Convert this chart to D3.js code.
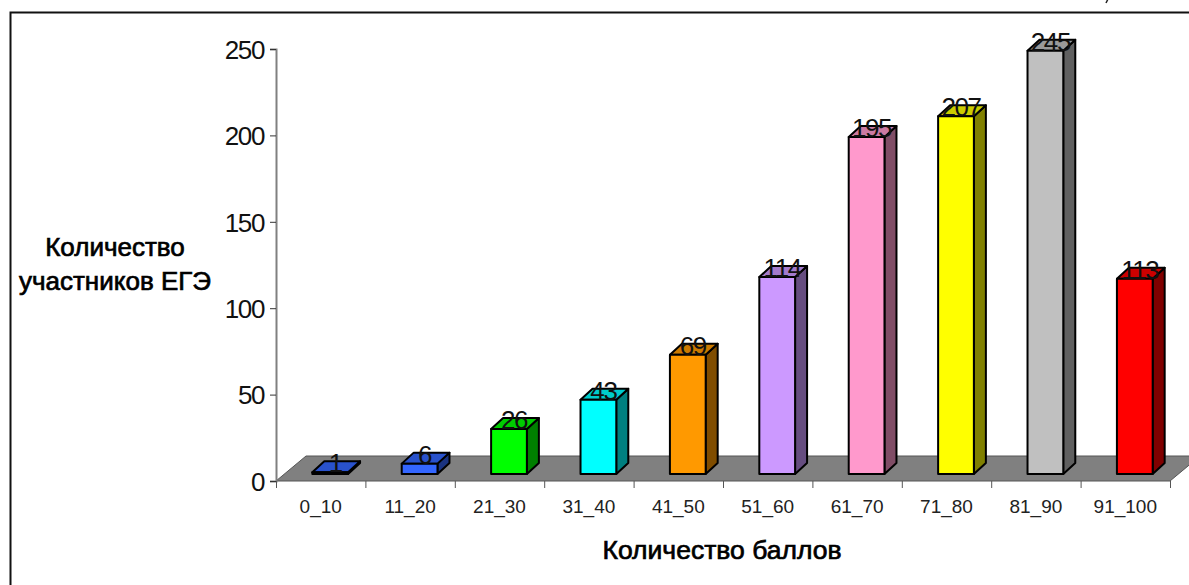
<!DOCTYPE html>
<html>
<head>
<meta charset="utf-8">
<script src="https://cdn.jsdelivr.net/npm/d3@7"></script>
<style>
html, body { margin: 0; padding: 0; background: #fff; }
svg { display: block; font-family: "Liberation Sans", Arial, sans-serif; }
</style>
</head>
<body>
<svg id="chart" width="1189" height="585"></svg>
<script>
var categories = ['0_10', '11_20', '21_30', '31_40', '41_50', '51_60', '61_70', '71_80', '81_90', '91_100']
var values = [1, 6, 26, 43, 69, 114, 195, 207, 245, 113]
var barColors = ['#3366ff', '#3366ff', '#00ff00', '#00ffff', '#ff9900', '#cc99ff', '#ff99cc', '#ffff00', '#c0c0c0', '#ff0000']
var yTicks = [0, 50, 100, 150, 200, 250]

var svg = d3.select('#chart')

var plotLeft = 276, plotRight = 1170, plotBottom = 481, plotTop = 49
// depth of the floor and of each bar
var floorDx = 30, floorDy = 25
var barDx = 12, barDy = 11
var shiftX = 9.5, shiftY = 7

var x = d3.scaleBand().domain(categories).range([plotLeft, plotRight]).paddingInner(0.6).paddingOuter(0.3)
var bandEdges = d3.scaleLinear().domain([0, categories.length]).range([plotLeft, plotRight])
var y = d3.scaleLinear().domain([0, 250]).range([plotBottom, plotTop])

function poly(points, fill) {
    return svg.append('polygon')
        .attr('points', points.map(p => p.join(',')).join(' '))
        .attr('fill', fill)
        .attr('stroke', '#000')
        .attr('stroke-width', 2)
        .attr('stroke-linejoin', 'round')
}

// page frame, runs off the right and bottom of the picture
svg.append('path')
    .attr('d', 'M10.5,590V12.5H1195')
    .attr('fill', 'none')
    .attr('stroke', '#111')
    .attr('stroke-width', 2)

// tail of a letter cut by the top edge of the scan
svg.append('path')
    .attr('d', 'M1108,-1L1106,3')
    .attr('fill', 'none')
    .attr('stroke', '#222')
    .attr('stroke-width', 1.5)

// floor
svg.append('polygon')
    .attr('points', [[plotLeft, plotBottom], [plotLeft + floorDx, plotBottom - floorDy], [plotRight + floorDx, plotBottom - floorDy], [plotRight, plotBottom]].map(p => p.join(',')).join(' '))
    .attr('fill', '#808080')
    .attr('stroke', '#555')
    .attr('stroke-width', 1)

// axes
var yAxis = svg.append('g')
    .attr('transform', 'translate(' + plotLeft + ',0)')
    .call(d3.axisLeft(y).tickValues(yTicks).tickSize(6).tickPadding(6))
yAxis.select('.domain').attr('stroke', '#808080').attr('stroke-width', 2)
yAxis.selectAll('.tick line').attr('stroke', '#333')
yAxis.selectAll('text')
    .attr('font-size', 26)
    .attr('letter-spacing', -1.4)
    .attr('dy', '0.36em')
    .attr('fill', '#111')
    .attr('font-family', '"Liberation Sans", Arial, sans-serif')

var xTickMarks = svg.append('g')
    .attr('transform', 'translate(0,' + plotBottom + ')')
    .call(d3.axisBottom(bandEdges).tickValues(d3.range(categories.length + 1)).tickSize(7).tickFormat(''))
xTickMarks.select('.domain').remove()
xTickMarks.selectAll('.tick line').attr('stroke', '#555')

var xAxis = svg.append('g')
    .attr('transform', 'translate(0,' + plotBottom + ')')
    .call(d3.axisBottom(x).tickSize(0).tickPadding(19))
xAxis.select('.domain').remove()
xAxis.selectAll('text').attr('font-size', 19).attr('fill', '#222').attr('font-family', '"Liberation Sans", Arial, sans-serif')

// bars
categories.forEach(function (c, i) {
    var x0 = x(c) + shiftX, x1 = x0 + x.bandwidth()
    var y0 = y(0) - shiftY, y1 = y(values[i]) - shiftY
    var col = d3.color(barColors[i])
    var sideCol = d3.rgb(col.r * 0.5, col.g * 0.5, col.b * 0.5)
    var topCol = d3.rgb(col.r * 0.8, col.g * 0.8, col.b * 0.8)
    poly([[x1, y0], [x1 + barDx, y0 - barDy], [x1 + barDx, y1 - barDy], [x1, y1]], sideCol)
    poly([[x0, y1], [x0 + barDx, y1 - barDy], [x1 + barDx, y1 - barDy], [x1, y1]], topCol)
    poly([[x0, y0], [x1, y0], [x1, y1], [x0, y1]], barColors[i])
})

// value labels sit across the top of each bar
svg.selectAll('.valueLabel')
    .data(values)
    .enter().append('text')
    .attr('class', 'valueLabel')
    .attr('x', (d, i) => x(categories[i]) + shiftX + x.bandwidth() / 2 + 5)
    .attr('y', d => y(d) - shiftY)
    .attr('text-anchor', 'middle')
    .attr('font-size', 26)
    .attr('letter-spacing', -1.4)
    .attr('fill', '#111')
    .text(d => d)

// axis titles
function title(text, tx, ty, size) {
    svg.append('text')
        .attr('x', tx).attr('y', ty)
        .attr('text-anchor', 'middle')
        .attr('font-size', size)
        .attr('fill', '#000')
        .attr('stroke', '#000')
        .attr('stroke-width', 0.7)
        .text(text)
}
title('Количество', 115, 256, 26)
title('участников ЕГЭ', 115, 290, 26)
title('Количество баллов', 722, 559, 26.5)
</script>
</body>
</html>
